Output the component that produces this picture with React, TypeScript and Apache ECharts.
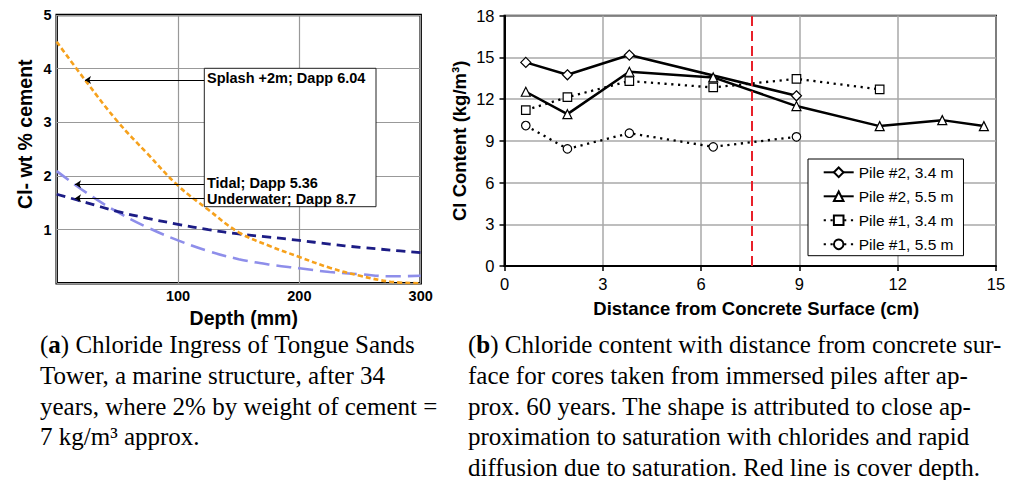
import React, { useEffect, useRef } from "react";
import * as echarts from "echarts";

// ---------- Panel (a): chloride profiles, Tongue Sands Tower ----------
const depthMm = [0, 25, 50, 75, 100, 125, 150, 175, 200, 225, 250, 275, 300];
const splashCl = [4.5, 3.74, 3.02, 2.41, 1.82, 1.37, 0.95, 0.7, 0.49, 0.29, 0.14, 0.03, 0.0];
const tidalCl = [2.09, 1.68, 1.33, 1.04, 0.8, 0.6, 0.45, 0.35, 0.28, 0.21, 0.17, 0.13, 0.14];
const underwaterCl = [1.66, 1.5, 1.34, 1.21, 1.1, 1.0, 0.92, 0.86, 0.8, 0.73, 0.67, 0.62, 0.57];
const seriesNamesA = ["Splash +2m; Dapp 6.04", "Tidal; Dapp 5.36", "Underwater; Dapp 8.7"];
// arrow annotations: [label anchor depth, arrow tip depth, level]
const arrowFrom = [121.6, 121.6, 121.6];
const arrowTo = [23.3, 15.1, 15.1];
const arrowLevel = [3.79, 1.845, 1.584];

// ---------- Panel (b): chloride content in immersed piles ----------
const p2_34_x = [0.65, 1.92, 3.81, 8.91];
const p2_34_y = [14.64, 13.75, 15.17, 12.24];
const p2_55_x = [0.65, 1.92, 3.81, 6.37, 8.91, 11.45, 13.36, 14.63];
const p2_55_y = [12.53, 10.92, 13.97, 13.56, 11.5, 10.06, 10.49, 10.06];
const p1_34_x = [0.65, 1.92, 3.81, 6.37, 8.91, 11.45];
const p1_34_y = [11.21, 12.14, 13.3, 12.84, 13.46, 12.7];
const p1_55_x = [0.65, 1.92, 3.81, 6.37, 8.91];
const p1_55_y = [10.1, 8.42, 9.55, 8.57, 9.29];
const seriesNamesB = ["Pile #2, 3.4 m", "Pile #2, 5.5 m", "Pile #1, 3.4 m", "Pile #1, 5.5 m"];
const coverDepthCm = 7.56;

const captionA = [
  "({b|a}) Chloride Ingress of Tongue Sands",
  "Tower, a marine structure, after 34",
  "years, where 2% by weight of cement =",
  "7 kg/m\u00B3 approx.",
];
const captionB = [
  "({b|b}) Chloride content with distance from concrete sur-",
  "face for cores taken from immersed piles after ap-",
  "prox. 60 years. The shape is attributed to close ap-",
  "proximation to saturation with chlorides and rapid",
  "diffusion due to saturation. Red line is cover depth.",
];

const sans = "'Liberation Sans', Arial, sans-serif";
const serif = "'Liberation Serif', 'Times New Roman', serif";

const zip = (xs: number[], ys: number[]) => xs.map((x, i) => [x, ys[i]]);

export default function App() {
  const ref = useRef<HTMLDivElement>(null);

  useEffect(() => {
    if (!ref.current) return;
    const chart = echarts.init(ref.current, undefined, { renderer: "svg" });

    const captionLines: any[] = [];
    const baseY = [344.7, 375.3, 406.3, 436.3, 467];
    captionA.forEach((t, i) =>
      captionLines.push({
        type: "text",
        x: 40,
        y: baseY[i],
        z: 5,
        style: {
          text: t,
          fontFamily: serif,
          fontSize: 25,
          fill: "#000",
          verticalAlign: "middle",
          rich: { b: { fontFamily: serif, fontSize: 25, fontWeight: "bold", fill: "#000" } },
        },
      })
    );
    captionB.forEach((t, i) =>
      captionLines.push({
        type: "text",
        x: 468,
        y: baseY[i],
        z: 5,
        style: {
          text: t,
          fontFamily: serif,
          fontSize: 25,
          fill: "#000",
          verticalAlign: "middle",
          rich: { b: { fontFamily: serif, fontSize: 25, fontWeight: "bold", fill: "#000" } },
        },
      })
    );

    const annoText = (text: string, y: number) => ({
      type: "text",
      x: 207,
      y,
      z: 5,
      style: {
        text,
        fontFamily: sans,
        fontWeight: "bold",
        fontSize: 14.5,
        fill: "#000",
        verticalAlign: "middle",
      },
    });

    const lineB = (
      name: string,
      data: number[][],
      symbol: string,
      size: number,
      dotted: boolean,
      extra: any = {}
    ) => ({
      name,
      type: "line",
      xAxisIndex: 1,
      yAxisIndex: 1,
      data,
      symbol,
      symbolSize: size,
      showSymbol: true,
      z: dotted ? 3 : 4,
      lineStyle: {
        color: "#000",
        width: dotted ? 2.3 : 2.5,
        type: dotted ? [2.2, 4.6] : "solid",
      },
      itemStyle: { color: "#fff", borderColor: "#000", borderWidth: 1.2 },
      emphasis: { disabled: true },
      ...extra,
    });

    const option: any = {
      animation: false,
      backgroundColor: "#fff",
      grid: [
        { left: 56.7, top: 15, width: 364, height: 268.3, show: true, borderColor: "#000", borderWidth: 2.5 },
        { left: 504.5, top: 15.7, width: 491.5, height: 250.3, show: true, borderColor: "#000", borderWidth: 2 },
      ],
      legend: {
        data: seriesNamesB,
        orient: "vertical",
        left: 808,
        top: 159,
        padding: [5.3, 10, 3.4, 14.7],
        itemWidth: 30,
        itemHeight: 12,
        itemGap: 8,
        backgroundColor: "#fff",
        borderColor: "#000",
        borderWidth: 1,
        borderRadius: 0,
        textStyle: { fontFamily: sans, fontSize: 15.5, color: "#000", lineHeight: 16 },
        selectedMode: false,
      },
      xAxis: [
        {
          gridIndex: 0,
          type: "value",
          min: 0,
          max: 300,
          interval: 100,
          axisLine: { show: false },
          axisTick: { show: false },
          splitLine: { show: true, lineStyle: { color: "#999", width: 1.2 } },
          axisLabel: {
            formatter: (v: number) => (v === 0 ? "" : String(v)),
            fontFamily: sans,
            fontWeight: "bold",
            fontSize: 14.5,
            color: "#000",
            margin: 5,
          },
          name: "Depth (mm)",
          nameLocation: "middle",
          nameGap: 20,
          nameTextStyle: {
            fontFamily: sans,
            fontWeight: "bold",
            fontSize: 19.5,
            color: "#000",
            padding: [0, 0, 0, 10],
          },
        },
        {
          gridIndex: 1,
          type: "value",
          min: 0,
          max: 15,
          interval: 3,
          axisLine: { show: true, lineStyle: { color: "#000", width: 2 } },
          axisTick: { show: true, length: 5, lineStyle: { color: "#000", width: 1.5 } },
          splitLine: { show: true, lineStyle: { color: "#a8a8a8", width: 1.5 } },
          axisLabel: { fontFamily: sans, fontSize: 16.5, color: "#000", margin: 9 },
          name: "Distance from Concrete Surface (cm)",
          nameLocation: "middle",
          nameGap: 33,
          nameTextStyle: {
            fontFamily: sans,
            fontWeight: "bold",
            fontSize: 18.5,
            color: "#000",
            padding: [0, 0, 0, 12],
          },
        },
      ],
      yAxis: [
        {
          gridIndex: 0,
          type: "value",
          min: 0,
          max: 5,
          interval: 1,
          axisLine: { show: false },
          axisTick: { show: false },
          splitLine: { show: true, lineStyle: { color: "#999", width: 1.2 } },
          axisLabel: {
            formatter: (v: number) => (v === 0 ? "" : String(v)),
            fontFamily: sans,
            fontWeight: "bold",
            fontSize: 14.5,
            color: "#000",
            margin: 5,
          },
          name: "Cl- wt % cement",
          nameLocation: "middle",
          nameGap: 22,
          nameTextStyle: {
            fontFamily: sans,
            fontWeight: "bold",
            fontSize: 19.5,
            color: "#000",
            padding: [0, 0, 0, 30],
          },
        },
        {
          gridIndex: 1,
          type: "value",
          min: 0,
          max: 18,
          interval: 3,
          axisLine: { show: true, lineStyle: { color: "#000", width: 2 } },
          axisTick: { show: true, length: 5, lineStyle: { color: "#000", width: 1.5 } },
          splitLine: { show: true, lineStyle: { color: "#a8a8a8", width: 1.5 } },
          axisLabel: { fontFamily: sans, fontSize: 16.5, color: "#000", margin: 10 },
          name: "Cl Content (kg/m\u00B3)",
          nameLocation: "middle",
          nameGap: 36,
          nameTextStyle: { fontFamily: sans, fontWeight: "bold", fontSize: 18.5, color: "#000" },
        },
      ],
      series: [
        {
          name: seriesNamesA[0],
          type: "line",
          xAxisIndex: 0,
          yAxisIndex: 0,
          data: zip(depthMm, splashCl),
          smooth: 0.4,
          showSymbol: false,
          symbol: "none",
          z: 3,
          lineStyle: { color: "#f6a11c", width: 2.6, type: [5, 3] },
          emphasis: { disabled: true },
          markLine: {
            silent: true,
            symbol: ["none", "arrow"],
            symbolSize: 6,
            label: { show: false },
            lineStyle: { color: "#000", width: 1, type: "solid" },
            emphasis: { disabled: true },
            data: arrowLevel.map((lv, i) => [
              { coord: [arrowFrom[i], lv] },
              { coord: [arrowTo[i], lv] },
            ]),
          },
        },
        {
          name: seriesNamesA[1],
          type: "line",
          xAxisIndex: 0,
          yAxisIndex: 0,
          data: zip(depthMm, tidalCl),
          smooth: 0.4,
          showSymbol: false,
          symbol: "none",
          z: 2,
          lineStyle: { color: "#8e8eea", width: 2.6, type: [15, 7] },
          emphasis: { disabled: true },
        },
        {
          name: seriesNamesA[2],
          type: "line",
          xAxisIndex: 0,
          yAxisIndex: 0,
          data: zip(depthMm, underwaterCl),
          smooth: 0.4,
          showSymbol: false,
          symbol: "none",
          z: 2,
          lineStyle: { color: "#1c1c85", width: 2.8, type: [9, 6] },
          emphasis: { disabled: true },
        },
        lineB(seriesNamesB[0], zip(p2_34_x, p2_34_y), "diamond", 10, false, {
          markLine: {
            silent: true,
            symbol: "none",
            label: { show: false },
            lineStyle: { color: "#e8202a", width: 2, type: [10, 5] },
            emphasis: { disabled: true },
            data: [{ xAxis: coverDepthCm }],
          },
        }),
        lineB(seriesNamesB[1], zip(p2_55_x, p2_55_y), "triangle", 9, false),
        lineB(seriesNamesB[2], zip(p1_34_x, p1_34_y), "rect", 8.5, true),
        lineB(seriesNamesB[3], zip(p1_55_x, p1_55_y), "circle", 8.5, true),
      ],
      graphic: [
        {
          type: "rect",
          z: 1,
          shape: { x: 204.3, y: 68.3, width: 171.7, height: 138.4 },
          style: { fill: "#fff", stroke: "#222", lineWidth: 1 },
        },
        annoText(seriesNamesA[0], 78),
        annoText(seriesNamesA[1], 183),
        annoText(seriesNamesA[2], 199),
        ...captionLines,
      ],
    };

    chart.setOption(option);
    return () => chart.dispose();
  }, []);

  return (
    <div
      ref={ref}
      style={{ position: "absolute", left: 0, top: 0, width: 1019, height: 480, background: "#fff" }}
    />
  );
}
